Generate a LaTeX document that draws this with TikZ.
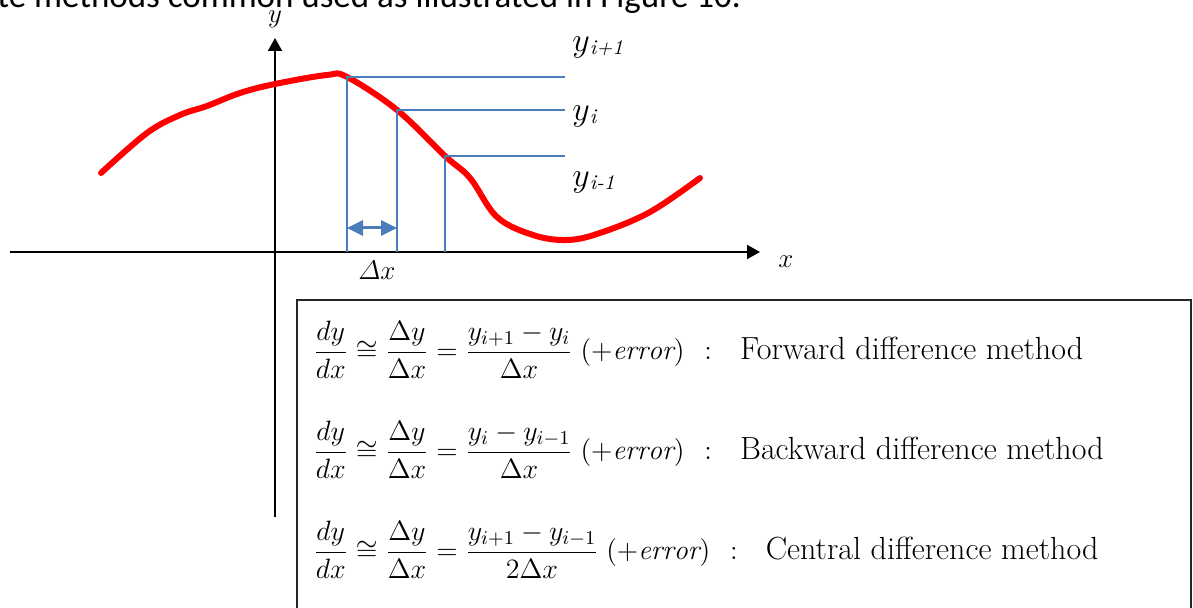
\RequirePackage{fix-cm}
\documentclass[tikz,border=0pt]{standalone}
\usepackage{amsmath}
\usepackage{fontspec}
\newfontfamily\bodyfont{Carlito}
\usetikzlibrary{arrows.meta}
\definecolor{cred}{HTML}{FF0000}
\definecolor{cblue}{HTML}{4A7EBB}
\definecolor{cgrey}{HTML}{262626}
\newcommand{\ysub}[1]{$y$\raisebox{-1.5pt}{\fontsize{10.5}{12}\selectfont\itshape #1}}
\tikzset{
  axis/.style={draw=black, line width=1pt, -{Triangle[length=6.5pt, width=7pt]}},
  curve/.style={draw=cred, line width=3pt, line cap=round, line join=round},
  level/.style={draw=cblue, line width=1.2pt},
  span/.style={draw=cblue, line width=1.5pt, {Triangle[length=8pt, width=7.5pt]}-{Triangle[length=8pt, width=7.5pt]}},
  lab/.style={font=\fontsize{13.5}{16}\selectfont, inner sep=0pt},
  ylab/.style={font=\fontsize{17}{20}\selectfont, inner sep=0pt, anchor=base west},
  eqn/.style={font=\fontsize{14}{17}\selectfont, inner sep=0pt, anchor=west},
  lead/.style={font=\bodyfont\fontsize{17.5}{21}\selectfont, inner sep=0pt, anchor=base west},
}
\newcommand{\method}[1]{\hspace{10pt}:\hspace{14pt}{\fontsize{16}{19}\selectfont #1}}

\begin{document}
\begin{tikzpicture}[x=0.5pt, y=-0.5pt]
  \useasboundingbox (0,0) rectangle (1193,608);
  \node[lead] (intro) at (-3,8) {te methods common used as illustrated in Figure 10.};
  % axes
  \coordinate (O) at (275,252);
  \coordinate (xs) at (10,252);
  \coordinate (xe) at (760,252);
  \coordinate (ys) at (275,517);
  \coordinate (ye) at (275,38);
  \draw[axis] (xs) -- (xe);
  \draw[axis] (ys) -- (ye);
  \node[lab, anchor=base] (ylabel) at (275,23) {$y$};
  \node[lab, anchor=base west] (xlabel) at (778,268) {$x$};
  % sample points on the curve
  \coordinate (p1) at (347,77);
  \coordinate (p2) at (397,110);
  \coordinate (p3) at (445,156);
  \coordinate (e) at (565,0);
  \draw[curve] plot[smooth, tension=0.6] coordinates {(101,173) (147,133) (180,115) (207,106) (240,93) (275,84) (327,75) (p1) (p2) (p3) (470,178) (497,217) (533,235) (567,240) (600,233) (650,212) (700,178)};
  \foreach \p in {p1,p2,p3}
    \draw[level] (\p |- O) -- (\p) -- (\p -| e);
  \node[ylab] (yip) at (572,52) {\ysub{i+1}};
  \node[ylab] (yi) at (572,121) {\ysub{i}};
  \node[ylab] (yim) at (572,187) {\ysub{i-1}};
  % step width
  \coordinate (a1) at (347,228);
  \coordinate (a2) at (397,228);
  \draw[span] (a1) -- (a2);
  \node[lab, anchor=base west] (dx) at (358,280) {$\mathnormal{\Delta}x$};
  % formulas
  \draw[draw=cgrey, line width=0.75pt] (297,625) |- (1191,300) -- (1191,625);
  \node[eqn] (fwd) at (313,350) {$\dfrac{dy}{dx}\cong\dfrac{\Delta y}{\Delta x}=\dfrac{y_{i+1}-y_i}{\Delta x}\;(+\mathit{error})$\method{Forward difference method}};
  \node[eqn] (bwd) at (313,450) {$\dfrac{dy}{dx}\cong\dfrac{\Delta y}{\Delta x}=\dfrac{y_i-y_{i-1}}{\Delta x}\;(+\mathit{error})$\method{Backward difference method}};
  \node[eqn] (ctr) at (313,550) {$\dfrac{dy}{dx}\cong\dfrac{\Delta y}{\Delta x}=\dfrac{y_{i+1}-y_{i-1}}{2\Delta x}\;(+\mathit{error})$\method{Central difference method}};
\end{tikzpicture}
\end{document}
